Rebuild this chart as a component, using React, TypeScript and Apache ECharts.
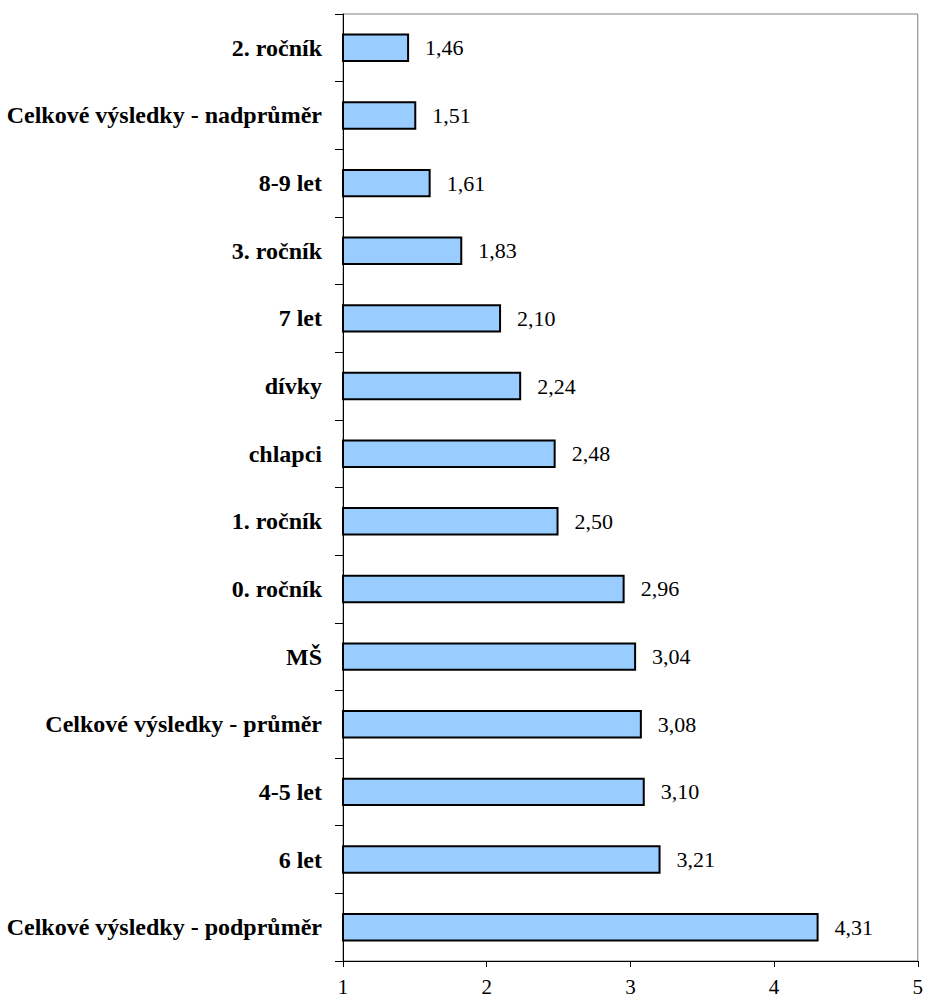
import React, { useEffect, useRef } from "react";
import * as echarts from "echarts";

// Categories, listed from top to bottom
const categories: string[] = [
  "2. ročník",
  "Celkové výsledky - nadprůměr",
  "8-9 let",
  "3. ročník",
  "7 let",
  "dívky",
  "chlapci",
  "1. ročník",
  "0. ročník",
  "MŠ",
  "Celkové výsledky - průměr",
  "4-5 let",
  "6 let",
  "Celkové výsledky - podprůměr",
];

const values: number[] = [
  1.46, 1.51, 1.61, 1.83, 2.1, 2.24, 2.48, 2.5, 2.96, 3.04, 3.08, 3.1, 3.21, 4.31,
];

const xMin = 1;
const xMax = 5;
const xInterval = 1;

const SERIF = "Liberation Serif";

const formatComma = (v: number) => v.toFixed(2).replace(".", ",");

export default function App() {
  const ref = useRef<HTMLDivElement>(null);

  useEffect(() => {
    if (!ref.current) return;
    const chart = echarts.init(ref.current, null, { renderer: "svg" });
    chart.setOption({
      animation: false,
      backgroundColor: "#ffffff",
      grid: {
        left: 343,
        right: 8,
        top: 14,
        bottom: 38,
        show: true,
        borderColor: "#7f7f7f",
        borderWidth: 1,
        backgroundColor: "transparent",
      },
      xAxis: {
        type: "value",
        min: xMin,
        max: xMax,
        interval: xInterval,
        axisLine: { show: true, lineStyle: { color: "#000", width: 1 } },
        axisTick: { show: true, length: 6, lineStyle: { color: "#000" } },
        splitLine: { show: false },
        axisLabel: {
          color: "#000",
          fontFamily: SERIF,
          fontSize: 21,
          margin: 15,
          formatter: (v: number) => String(v),
        },
      },
      yAxis: {
        type: "category",
        inverse: true,
        data: categories,
        axisLine: { show: true, lineStyle: { color: "#000", width: 1 } },
        axisTick: { show: true, length: 8, lineStyle: { color: "#000" } },
        axisLabel: {
          color: "#000",
          fontFamily: SERIF,
          fontWeight: "bold",
          fontSize: 24,
          margin: 21,
        },
      },
      series: [
        {
          type: "bar",
          data: values,
          barCategoryGap: "58%",
          itemStyle: {
            color: "#99ccff",
            borderColor: "#000",
            borderWidth: 2,
          },
          label: {
            show: true,
            position: "right",
            distance: 16,
            color: "#000",
            fontFamily: SERIF,
            fontSize: 22,
            formatter: (p: any) => formatComma(p.value as number),
          },
        },
      ],
    });
    return () => chart.dispose();
  }, []);

  return (
    <div
      ref={ref}
      style={{ position: "absolute", left: 0, top: 0, width: 926, height: 999 }}
    />
  );
}
